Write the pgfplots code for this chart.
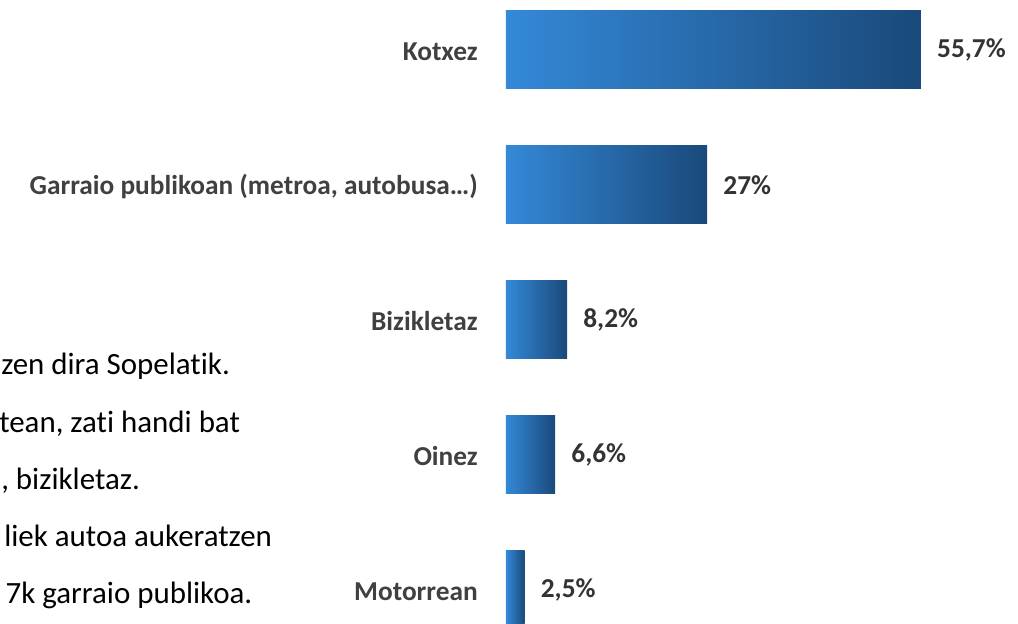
\documentclass[border=0pt]{standalone}
\usepackage{pgfplots}
\pgfplotsset{compat=1.18}
\usepackage{fontspec}
\setmainfont{Carlito}[Ligatures={NoCommon,NoContextual}]
\definecolor{barL}{RGB}{52,137,216}
\definecolor{barR}{RGB}{26,73,122}
\definecolor{lab}{RGB}{64,64,64}
\definecolor{val}{RGB}{51,51,51}
\begin{document}
\begin{tikzpicture}
\path[use as bounding box, clip] (0,0) rectangle (763.5pt,468pt);
\begin{axis}[
  at={(379.5pt,-25.125pt)}, anchor=south west,
  x=5.5875pt, y=101.25pt,
  xmin=0, xmax=68, ymin=-0.5, ymax=4.5,
  xbar, bar width=58.5pt, bar shift=0pt,
  axis line style={draw=none},
  major tick length=0pt,
  xtick=\empty,
  ytick={0,1,2,3,4},
  yticklabels={Motorrean,Oinez,Bizikletaz,{Garraio publikoan (metroa, autobusa…)},Kotxez},
  yticklabel style={anchor=east, inner sep=0pt, xshift=-21pt, yshift=-1pt, text=lab, font=\fontsize{20.5pt}{24pt}\selectfont\bfseries},
  point meta=explicit symbolic,
  nodes near coords,
  nodes near coords style={anchor=west, inner sep=0pt, xshift=12pt, text=val, font=\fontsize{20.5pt}{24pt}\selectfont\bfseries},
  every axis plot/.append style={draw=none, left color=barL, right color=barR},
  clip=false,
]
\addplot coordinates {(2.5,0) [2,5\%]};
\addplot coordinates {(6.6,1) [6,6\%]};
\addplot coordinates {(8.2,2) [8,2\%]};
\addplot coordinates {(27,3) [27\%]};
\addplot coordinates {(55.7,4) [55,7\%]};
\end{axis}
\begin{scope}[every node/.style={anchor=base west, inner sep=0pt, font=\fontsize{23.2pt}{27pt}\selectfont}]
\node at (0.75pt,186.75pt) {zen dira Sopelatik.};
\node at (-0.75pt,143.25pt) {tean, zati handi bat};
\node at (0.75pt,100.5pt) {, bizikletaz.};
\node at (3pt,57.75pt) {liek autoa aukeratzen};
\node at (4pt,15pt) {7k garraio publikoa.};
\end{scope}
\end{tikzpicture}
\end{document}
